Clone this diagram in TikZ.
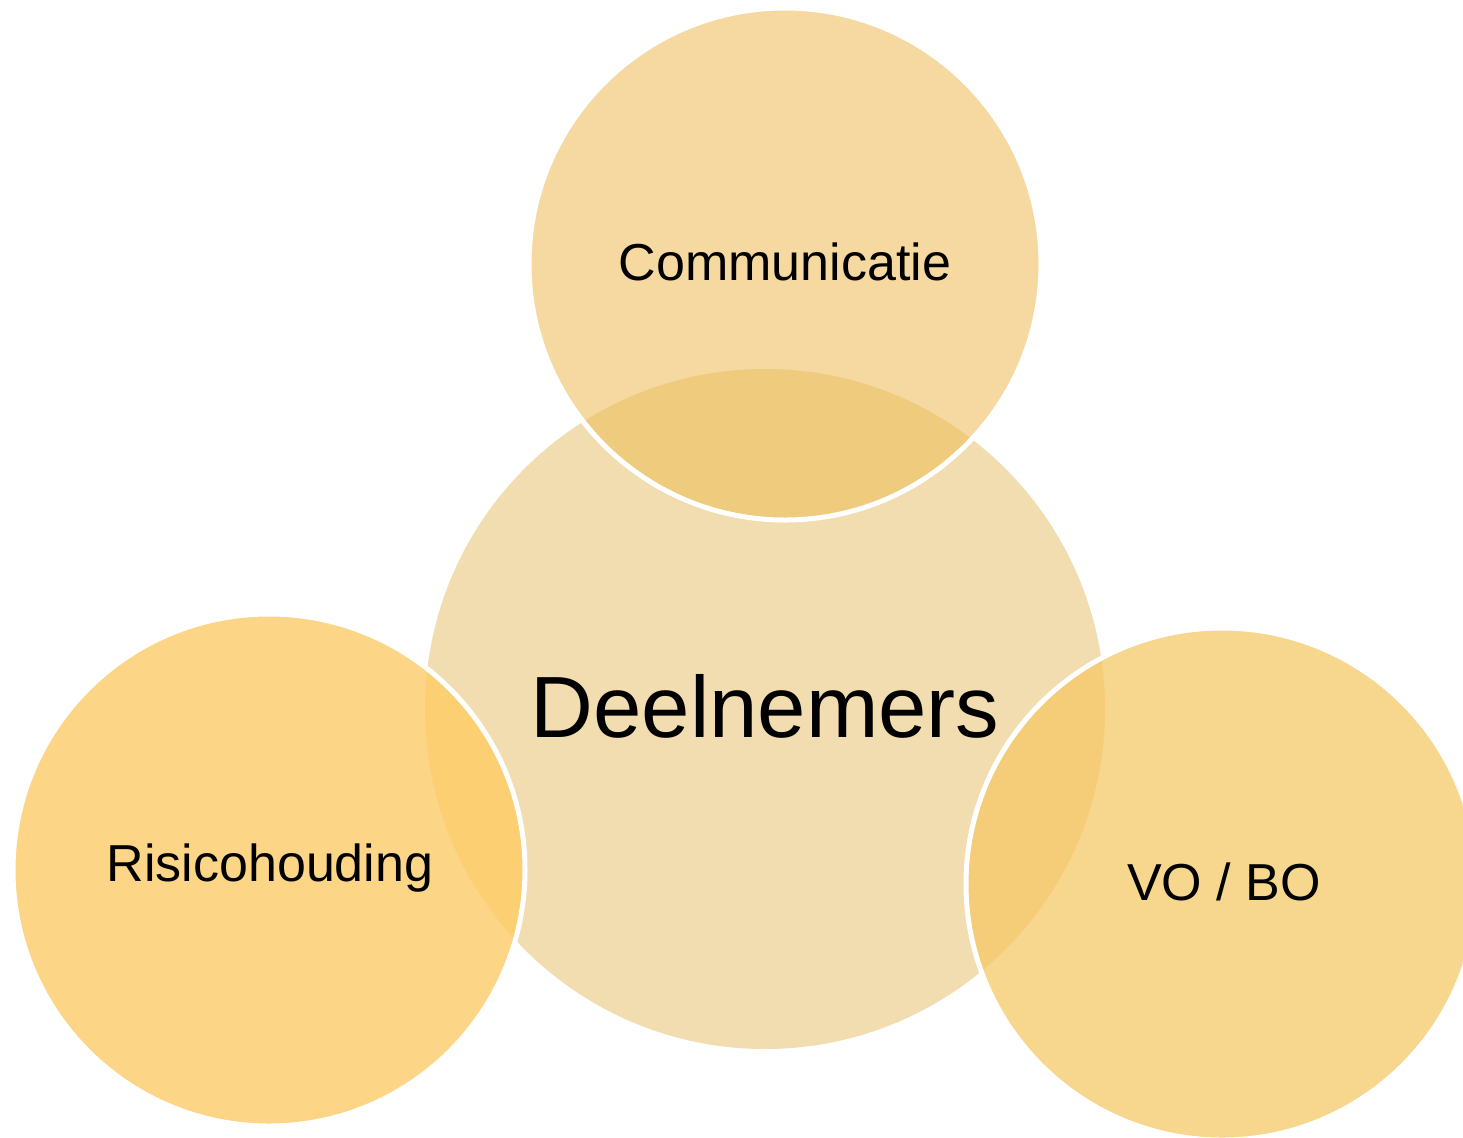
\documentclass[tikz,border=0pt]{standalone}
\usepackage{fontspec}
\setmainfont{Liberation Sans}
\definecolor{cCenter}{HTML}{F2DDB0}
\definecolor{cTop}{HTML}{F5D9A0}
\definecolor{cTopOv}{HTML}{EFCB7E}
\definecolor{cLeft}{HTML}{FCD586}
\definecolor{cLeftOv}{HTML}{FBCF72}
\definecolor{cRight}{HTML}{F7D68E}
\definecolor{cRightOv}{HTML}{F5CD78}
\begin{document}
\begin{tikzpicture}[x=0.5pt,y=-0.5pt,
  bigc/.style={circle,inner sep=0pt,minimum size=340pt},
  satc/.style={circle,inner sep=0pt,minimum size=256pt},
  ring/.style={draw=white,line width=2.5pt},
  lbl/.style={font=\fontsize{26}{31}\selectfont},
  biglbl/.style={font=\fontsize{43.5}{52}\selectfont}]
\useasboundingbox (0,0) rectangle (1463,1137);
% centre
\node[bigc,fill=cCenter] (center) at (765,709) {};
% top
\node[satc,fill=cTop] (top) at (785,264) {};
\begin{scope}
  \clip (785,264) circle[radius=256];
  \fill[cTopOv] (765,709) circle[radius=340];
\end{scope}
\node[satc,ring] (topring) at (785,264) {};
% left
\node[satc,fill=cLeft] (left) at (269,870) {};
\begin{scope}
  \clip (269,870) circle[radius=256];
  \fill[cLeftOv] (765,709) circle[radius=340];
\end{scope}
\node[satc,ring] (leftring) at (269,870) {};
% right
\node[satc,fill=cRight] (right) at (1222,884) {};
\begin{scope}
  \clip (1222,884) circle[radius=256];
  \fill[cRightOv] (765,709) circle[radius=340];
\end{scope}
\node[satc,ring] (rightring) at (1222,884) {};
% labels
\node[biglbl] (tcenter) at (765,706) {Deelnemers};
\node[lbl] (ttop) at (785,262) {Communicatie};
\node[lbl] (tleft) at (270,868) {Risicohouding};
\node[lbl] (tright) at (1224,882) {VO / BO};
\end{tikzpicture}
\end{document}
